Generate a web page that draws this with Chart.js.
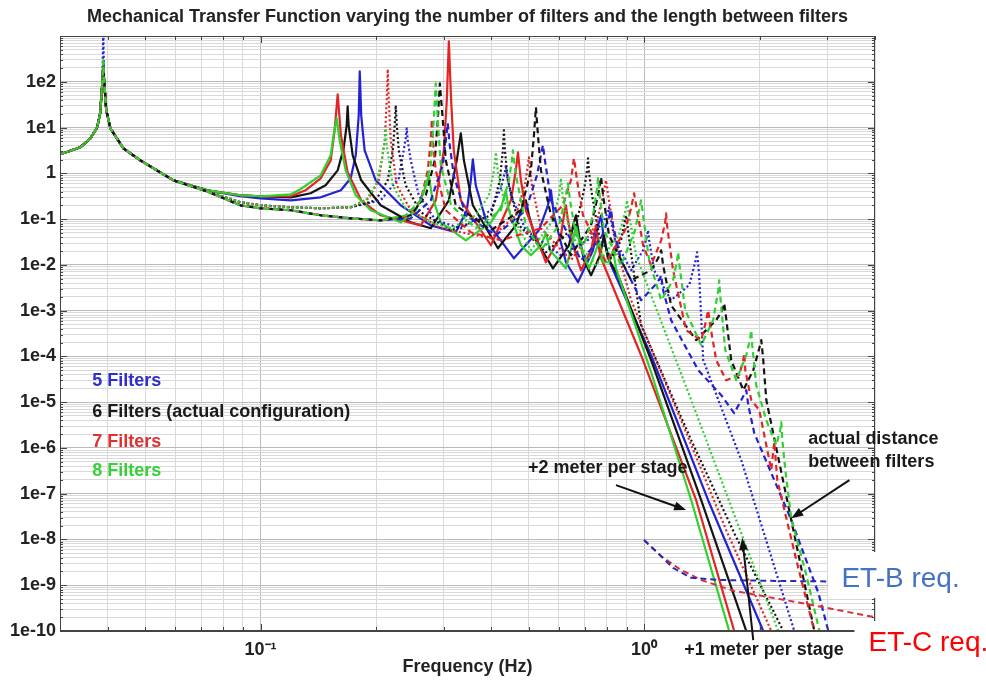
<!DOCTYPE html>
<html>
<head>
<meta charset="utf-8">
<title>Mechanical Transfer Function</title>
<script src="https://cdn.jsdelivr.net/npm/chart.js@4.4.1/dist/chart.umd.min.js"></script>
<style>
  html, body { margin: 0; padding: 0; background: #fff; }
  #wrap { width: 986px; height: 681px; }
</style>
</head>
<body>
<div id="wrap"><canvas id="tfChart" width="986" height="681"></canvas></div>
<script>
// Curves: [frequency (Hz), magnitude]
// solid = +2 m per stage, dotted = +1 m per stage, dashed = actual distance

const blue5Solid = [
  [0.030,2.6],[0.0339,3.7],[0.036,5.8],[0.0375,10],[0.0382,21],[0.0387,107],[0.0389,250],[0.0391,107],[0.0396,24],[0.0406,9.6],[0.0439,3.5],[0.0486,1.92],[0.0593,0.70],[0.0727,0.425],
  [0.0886,0.315],[0.1,0.284],[0.12,0.257],[0.1435,0.299],[0.162,0.425],[0.1718,0.778],[0.1771,2.47],[0.1803,18.5],[0.1814,169],[0.183,18.5],[0.1868,3.18],[0.1997,0.704],[0.232,0.2],[0.2779,0.073],[0.3229,0.0515],[0.345,0.156],[0.3534,0.704],[0.3577,2.02],[0.364,0.547],[0.387,0.094],[0.4578,0.0139],[0.532,0.057],[0.5615,0.2],[0.5717,0.425],[0.582,0.121],[0.6256,0.0114],[0.6725,0.0042],[0.736,0.0208],[0.7586,0.073],[0.7724,0.121],[0.7861,0.0344],[0.8199,0.0098],
  [1.043,1.06e-4],[1.469,7.2e-8],[2.045,1e-10],[2.185,2.6e-11]
];
const black6Solid = [
  [0.030,2.6],[0.0339,3.7],[0.036,5.8],[0.0375,10],[0.0382,21],[0.0387,107],[0.0389,200],[0.0391,107],[0.0396,24],[0.0406,9.6],[0.0439,3.5],[0.0486,1.92],[0.0593,0.70],[0.0727,0.425],
  [0.0886,0.331],[0.1,0.315],[0.12,0.299],[0.135,0.366],[0.1478,0.547],[0.1589,1.16],[0.1647,3.5],[0.1677,11.2],[0.1687,29],[0.1697,11.2],[0.1739,2.47],[0.183,0.704],[0.2057,0.2],[0.2464,0.085],[0.2779,0.063],[0.3097,0.257],[0.3248,1.92],[0.3328,7.5],[0.339,1.92],[0.3577,0.2],[0.4158,0.023],[0.463,0.073],[0.483,0.2],[0.4918,0.257],[0.5008,0.121],[0.5224,0.0344],[0.5786,0.0084],[0.637,0.0268],[0.6564,0.085],[0.6644,0.121],[0.6766,0.0443],[0.6971,0.0126],[0.7273,0.0059],[0.7677,0.0162],[0.7861,0.0443],[0.805,0.0139],[0.8553,0.0059],
  [1.043,8.3e-5],[1.409,7.2e-8],[1.847,1e-10],[1.949,2.6e-11]
];
const red7Solid = [
  [0.030,2.6],[0.0339,3.7],[0.036,5.8],[0.0375,10],[0.0382,21],[0.0387,107],[0.0389,220],[0.0391,107],[0.0396,24],[0.0406,9.6],[0.0439,3.5],[0.0486,1.92],[0.0593,0.70],[0.0727,0.425],
  [0.0886,0.331],[0.1,0.315],[0.12,0.315],[0.131,0.425],[0.1435,0.778],[0.1524,1.92],[0.156,8.7],[0.1589,53],[0.162,6.76],[0.1687,1.05],[0.183,0.257],[0.2057,0.121],[0.2617,0.073],[0.2863,0.257],[0.3005,3.18],[0.3059,39],[0.3097,762],[0.314,39],[0.319,3.18],[0.3328,0.257],[0.3987,0.0268],[0.4496,0.257],[0.463,1.16],[0.4689,2.87],[0.4774,0.704],[0.4918,0.156],[0.5547,0.0114],[0.6071,0.0443],[0.6181,0.121],[0.6256,0.2],[0.6332,0.094],[0.6525,0.0268],[0.6848,0.0076],[0.7273,0.0208],[0.7496,0.073],[0.7677,0.0162],[0.7861,0.0098],
  [0.9821,1.06e-4],[1.367,7.2e-8],[1.718,1e-10],[1.803,2.6e-11]
];
const green8Solid = [
  [0.030,2.6],[0.0339,3.7],[0.036,5.8],[0.0375,10],[0.0382,21],[0.0387,107],[0.0389,293],[0.0391,107],[0.0396,24],[0.0406,9.6],[0.0439,3.5],[0.0486,1.92],[0.0593,0.70],[0.0727,0.425],
  [0.0886,0.331],[0.1,0.315],[0.12,0.348],[0.127,0.448],[0.1435,0.904],[0.1524,2.47],[0.155,6.76],[0.158,15.9],[0.1608,5.25],[0.1667,1.16],[0.1771,0.331],[0.1937,0.156],[0.232,0.085],[0.254,0.156],[0.2665,0.385],[0.2746,0.904],[0.2796,0.331],[0.2951,0.085],[0.3429,0.0344],[0.3987,0.085],[0.4257,0.2],[0.4362,0.425],[0.4441,0.156],[0.4774,0.0268],[0.5068,0.0162],[0.5383,0.0268],[0.5547,0.049],[0.5683,0.0208],[0.6256,0.0084],[0.6486,0.0268],[0.6644,0.073],[0.6806,0.0268],[0.7186,0.0084],[0.7496,0.0208],[0.7632,0.0344],[0.7816,0.0114],[0.8101,0.0114],[0.83,0.0208],[0.845,0.0084],
  [1.043,4.5e-5],[1.327,7.2e-8],[1.667,1e-10],[1.749,2.6e-11]
];

const blue5Dotted = [
  [0.030,2.6],[0.0339,3.7],[0.036,5.8],[0.0375,10],[0.0382,21],[0.0387,107],[0.0389,1500],[0.0391,107],[0.0396,24],[0.0406,9.6],[0.0439,3.5],[0.0486,1.92],[0.0593,0.70],[0.0727,0.40],
  [0.0886,0.233],[0.1,0.2],[0.12,0.181],[0.1435,0.172],[0.1718,0.181],[0.2057,0.257],[0.2293,0.778],[0.2362,3.18],[0.239,5.81],[0.2405,9.6],[0.2419,5.25],[0.2464,1.92],[0.2585,0.331],[0.2863,0.094],[0.3328,0.063],[0.3987,0.156],[0.4232,0.47],[0.4336,1.05],[0.4362,1.5],[0.4388,0.904],[0.4496,0.331],[0.4918,0.057],[0.6071,0.0162],[0.7273,0.0381],[0.7861,0.094],[0.805,0.141],[0.8101,0.181],[0.815,0.121],[0.84,0.0344],[0.9249,0.0076],[0.994,0.0208],[1.018,0.0421],[1.024,0.057],[1.031,0.0344],[1.062,0.0076],[1.176,0.00169],[1.311,0.0036],[1.359,0.0114],[1.375,0.0188],[1.392,0.0059],[1.426,8.3e-5],
  [1.792,5.4e-7],[2.464,1e-10],[2.617,2.6e-11]
];
const black6Dotted = [
  [0.030,2.6],[0.0339,3.7],[0.036,5.8],[0.0375,10],[0.0382,21],[0.0387,107],[0.0389,200],[0.0391,107],[0.0396,24],[0.0406,9.6],[0.0439,3.5],[0.0486,1.92],[0.0593,0.70],[0.0727,0.40],
  [0.0886,0.233],[0.1,0.2],[0.12,0.181],[0.1435,0.172],[0.1718,0.181],[0.1997,0.257],[0.2146,0.704],[0.2212,3.18],[0.2238,11.2],[0.2252,30.5],[0.2266,11.2],[0.2293,3.18],[0.239,0.547],[0.2617,0.141],[0.314,0.057],[0.3987,0.121],[0.4207,0.704],[0.4284,3.18],[0.431,8.7],[0.4336,3.18],[0.4415,0.704],[0.4718,0.073],[0.5547,0.0188],[0.6644,0.073],[0.6971,0.425],[0.7099,1.16],[0.7143,2.13],[0.7186,1.05],[0.7316,0.331],[0.7632,0.0443],[0.8199,0.0139],[0.8708,0.0344],[0.8976,0.121],[0.919,0.0268],
  [0.9821,4.8e-4],[1.327,1.48e-6],[1.718,1.38e-8],[2.307,1e-10],[2.449,2.6e-11]
];
const red7Dotted = [
  [0.030,2.6],[0.0339,3.7],[0.036,5.8],[0.0375,10],[0.0382,21],[0.0387,107],[0.0389,220],[0.0391,107],[0.0396,24],[0.0406,9.6],[0.0439,3.5],[0.0486,1.92],[0.0593,0.70],[0.0727,0.40],
  [0.0886,0.233],[0.1,0.2],[0.12,0.181],[0.1435,0.172],[0.1718,0.181],[0.1914,0.284],[0.2033,0.704],[0.2108,5.25],[0.2133,39],[0.2146,187],[0.2159,39],[0.2185,5.25],[0.2266,0.547],[0.2464,0.156],[0.2951,0.063],[0.3987,0.0381],[0.463,0.121],[0.489,0.547],[0.5008,2.24],[0.5099,0.547],[0.5383,0.063],[0.6447,0.0126],[0.7496,0.073],[0.7816,0.331],[0.7957,0.704],[0.8101,0.257],[0.845,0.0268],[0.9249,0.00169],
  [1.249,4.0e-6],[1.637,1.6e-8],[2.146,1e-10],[2.265,2.6e-11]
];
const green8Dotted = [
  [0.030,2.6],[0.0339,3.7],[0.036,5.8],[0.0375,10],[0.0382,21],[0.0387,107],[0.0389,280],[0.0391,107],[0.0396,24],[0.0406,9.6],[0.0439,3.5],[0.0486,1.92],[0.0593,0.70],[0.0727,0.40],
  [0.0886,0.233],[0.1,0.2],[0.12,0.181],[0.1435,0.172],[0.1718,0.181],[0.188,0.257],[0.1997,0.547],[0.207,1.92],[0.2108,5.25],[0.212,9.6],[0.2133,4.1],[0.2212,0.547],[0.239,0.172],[0.2779,0.085],[0.314,0.063],[0.364,0.121],[0.394,0.331],[0.406,1.16],[0.4108,2.87],[0.4158,1.05],[0.431,0.257],[0.5068,0.0208],[0.5786,0.094],[0.60,0.331],[0.6071,0.778],[0.614,0.284],[0.6447,0.0443],[0.7496,0.0098],[0.86,0.0443],[0.892,0.141],[0.9028,0.257],[0.914,0.121],[0.953,0.0162],[1.043,0.00217],
  [1.327,1.11e-5],[1.739,2.65e-8],[2.238,1e-10],[2.38,2.6e-11]
];

const blue5Dashed = [
  [0.030,2.6],[0.0339,3.7],[0.036,5.8],[0.0375,10],[0.0382,21],[0.0387,107],[0.0389,250],[0.0391,107],[0.0396,24],[0.0406,9.6],[0.0439,3.5],[0.0486,1.92],[0.0593,0.70],[0.0727,0.40],
  [0.0886,0.2],[0.1,0.172],[0.12,0.156],[0.1435,0.121],[0.1718,0.104],[0.2057,0.094],[0.2464,0.104],[0.2779,0.257],[0.2987,1.5],[0.3041,5.25],[0.3077,12.4],[0.3114,4.1],[0.319,0.904],[0.3429,0.121],[0.4108,0.0443],[0.4918,0.156],[0.5256,0.904],[0.5383,2.47],[0.5448,4.1],[0.5514,1.92],[0.5717,0.257],[0.6848,0.0126],[0.7724,0.0381],[0.805,0.094],[0.8199,0.156],[0.83,0.073],[0.8708,0.0126],[0.9821,0.00169],[1.068,0.0036],[1.101,0.0051],[1.108,0.0059],[1.121,0.0028],[1.176,6.2e-4],[1.384,5.0e-5],[1.589,1.42e-5],[1.718,5.75e-6],[1.803,1.22e-5],[1.836,1.65e-5],[1.847,1.83e-5],[1.869,8.6e-6],[1.938,2.1e-6],
  [2.42,2.65e-8],[2.847,6.8e-10],[3.023,1e-10],[3.23,2.6e-11]
];
const black6Dashed = [
  [0.030,2.6],[0.0339,3.7],[0.036,5.8],[0.0375,10],[0.0382,21],[0.0387,107],[0.0389,200],[0.0391,107],[0.0396,24],[0.0406,9.6],[0.0439,3.5],[0.0486,1.92],[0.0593,0.70],[0.0727,0.40],
  [0.0886,0.2],[0.1,0.172],[0.12,0.156],[0.1435,0.121],[0.1718,0.104],[0.2057,0.094],[0.2464,0.121],[0.2697,0.331],[0.2846,1.92],[0.2898,14.4],[0.2934,92],[0.2987,14.4],[0.3041,1.92],[0.3229,0.2],[0.3987,0.057],[0.4774,0.156],[0.5068,1.16],[0.5162,6.76],[0.5224,27.6],[0.5288,6.76],[0.5383,1.16],[0.5717,0.121],[0.6447,0.0162],[0.7273,0.073],[0.7586,0.331],[0.7724,0.818],[0.7816,0.331],[0.8101,0.0443],[0.9249,0.0046],[1.043,0.0076],[1.088,0.0139],[1.108,0.0208],[1.121,0.0098],[1.176,0.00131],[1.367,2.26e-4],[1.542,6.2e-4],[1.599,0.00102],[1.618,0.00145],[1.637,6.8e-4],[1.687,8.3e-5],[1.814,1.83e-5],[1.926,5.0e-5],[1.997,1.51e-4],[2.021,2.26e-4],[2.045,8.3e-5],[2.083,1.11e-5],
  [2.42,2.65e-8],[2.779,1e-10],[2.864,2.6e-11]
];
const red7Dashed = [
  [0.030,2.6],[0.0339,3.7],[0.036,5.8],[0.0375,10],[0.0382,21],[0.0387,107],[0.0389,220],[0.0391,107],[0.0396,24],[0.0406,9.6],[0.0439,3.5],[0.0486,1.92],[0.0593,0.70],[0.0727,0.40],
  [0.0886,0.2],[0.1,0.172],[0.12,0.156],[0.1435,0.121],[0.1718,0.104],[0.2057,0.094],[0.239,0.115],[0.2617,0.257],[0.2729,1.16],[0.2779,5.25],[0.2796,15.1],[0.2813,5.25],[0.2863,1.16],[0.3041,0.156],[0.3534,0.0515],[0.4232,0.0344],[0.5383,0.063],[0.614,0.2],[0.6447,0.704],[0.6564,2.13],[0.6685,0.704],[0.693,0.121],[0.7957,0.0114],[0.892,0.057],[0.9249,0.172],[0.9417,0.366],[0.9588,0.156],[0.994,0.0268],[1.043,0.0098],[1.108,0.0344],[1.135,0.085],[1.141,0.134],[1.148,0.073],[1.19,0.0076],[1.287,3.7e-4],[1.409,2.26e-4],[1.452,6.2e-4],[1.469,0.00102],[1.487,4.8e-4],[1.542,8.3e-5],[1.637,3.0e-5],[1.770,3.9e-5],[1.814,8.3e-5],[1.825,1.17e-4],[1.836,5.0e-5],[1.903,1.11e-5],[1.997,6.7e-6],[2.146,3.3e-7],[2.185,1.34e-6],[2.225,1.98e-7],
  [2.494,3.55e-9],[2.779,1e-10],[2.864,2.6e-11]
];
const green8Dashed = [
  [0.030,2.6],[0.0339,3.7],[0.036,5.8],[0.0375,10],[0.0382,21],[0.0387,107],[0.0389,280],[0.0391,107],[0.0396,24],[0.0406,9.6],[0.0439,3.5],[0.0486,1.92],[0.0593,0.70],[0.0727,0.40],
  [0.0886,0.2],[0.1,0.172],[0.12,0.156],[0.1435,0.121],[0.1718,0.104],[0.2057,0.094],[0.239,0.121],[0.2617,0.257],[0.2779,1.5],[0.2829,14.4],[0.2863,92],[0.2898,14.4],[0.2951,1.5],[0.314,0.2],[0.364,0.063],[0.4232,0.156],[0.4441,0.704],[0.4522,1.92],[0.455,3.18],[0.4578,1.92],[0.4661,0.704],[0.4918,0.073],[0.5383,0.0208],[0.60,0.073],[0.6256,0.331],[0.6332,0.605],[0.6409,0.257],[0.6644,0.0443],[0.6971,0.0268],[0.736,0.121],[0.754,0.47],[0.7586,0.778],[0.7632,0.425],[0.7861,0.057],[0.8708,0.0098],[0.9473,0.057],[0.9703,0.156],[0.9821,0.257],[0.994,0.121],[1.031,0.0126],[1.108,0.00169],[1.19,0.0046],[1.219,0.0126],[1.227,0.0188],[1.234,0.0114],[1.28,0.00102],[1.409,1.76e-4],[1.514,6.2e-4],[1.561,0.0028],[1.570,0.0046],[1.579,0.00217],[1.628,1.37e-4],[1.739,3.0e-5],[1.847,1.06e-4],[1.891,2.5e-4],[1.903,3.7e-4],[1.914,1.76e-4],[1.961,2.35e-5],[2.083,4.0e-6],[2.211,1.15e-6],[2.265,2.45e-6],[2.279,3.66e-6],[2.293,1.48e-6],[2.335,3.3e-7],
  [2.42,2.9e-8],[2.649,1.67e-9],[2.864,1e-10],[2.934,2.6e-11]
];

// requirement curves
const etbReq = [[1.0,9.7e-9],[1.108,4.3e-9],[1.19,2.38e-9],[1.327,1.45e-9],[1.589,1.3e-9],[2.279,1.24e-9],[4.0,1.18e-9]];
const etcReq = [[1.0,9.7e-9],[1.108,4.3e-9],[1.249,2.15e-9],[1.409,1.3e-9],[1.718,7.5e-10],[2.57,4.1e-10],[4.0,2.0e-10]];

// axis ticks
const xMajorTicks = [0.1, 1];
const xTickLabels = ['10\u207B\u00B9', '10\u2070'];
const yMajorTicks = [1e-10,1e-9,1e-8,1e-7,1e-6,1e-5,1e-4,1e-3,1e-2,1e-1,1,1e1,1e2,1e3];
const yTickLabels = ['1e-10','1e-9','1e-8','1e-7','1e-6','1e-5','1e-4','1e-3','1e-2','1e-1','1','1e1','1e2',''];

const legendTexts = ['5 Filters', '6 Filters (actual configuration)', '7 Filters', '8 Filters'];

const BLUE = '#2222d4', BLACK = '#141414', RED = '#e22424', GREEN = '#30d030';
const FONT = '"Liberation Sans", Arial, Helvetica, sans-serif';

function pts(arr) {
  return arr.map(p => ({ x: p[0], y: p[1] }));
}
function sameLog(a, b) {
  return Math.abs(Math.log10(a) - Math.log10(b)) < 1e-6;
}
function majorIndex(list, v) {
  for (let i = 0; i < list.length; i++) if (sameLog(list[i], v)) return i;
  return -1;
}

// minor ticks 1..9 for each decade
function decadeTicks(lo, hi) {
  const out = [];
  for (let e = -11; e <= 3; e++) {
    for (let k = 1; k <= 9; k++) {
      const v = k * Math.pow(10, e);
      if (v >= lo * 0.999 && v <= hi * 1.001) out.push(v);
    }
  }
  return out;
}
const xTickValues = decadeTicks(0.03, 4);
const yTickValues = decadeTicks(1e-10, 1e3);

const DOT = [2, 2.5], DASH = [6, 4];
function curve(label, arr, color, dash, width) {
  return {
    label: label, data: pts(arr), borderColor: color, backgroundColor: color,
    borderWidth: width || 2.2, borderDash: dash, pointRadius: 0, tension: 0,
    borderJoinStyle: 'round', fill: false
  };
}

const datasets = [
  curve('ET-B req.', etbReq, '#2a2ab4', DASH, 2),
  curve('ET-C req.', etcReq, '#d8303c', DASH, 2),
  curve('8 Filters actual', green8Dashed, GREEN, DASH),
  curve('7 Filters actual', red7Dashed, RED, DASH),
  curve('6 Filters actual', black6Dashed, BLACK, DASH),
  curve('5 Filters actual', blue5Dashed, BLUE, DASH),
  curve('8 Filters +1 m', green8Dotted, GREEN, DOT),
  curve('7 Filters +1 m', red7Dotted, RED, DOT),
  curve('6 Filters +1 m', black6Dotted, BLACK, DOT),
  curve('5 Filters +1 m', blue5Dotted, BLUE, DOT),
  curve('8 Filters +2 m', green8Solid, GREEN, []),
  curve('7 Filters +2 m', red7Solid, RED, []),
  curve('6 Filters +2 m', black6Solid, BLACK, []),
  curve('5 Filters +2 m', blue5Solid, BLUE, [])
];

// text and arrows placed in data coordinates
const notes = {
  legendAt: [[0.0364, 2.9e-5], [0.0364, 6.05e-6], [0.0364, 1.34e-6], [0.0364, 3.1e-7]],
  legendColors: ['#2f2fd0', '#1a1a1a', '#e03030', '#38d038'],
  texts: [
    { t: '+2 meter per stage', at: [0.498, 3.6e-7] },
    { t: 'actual distance', at: [2.681, 1.56e-6] },
    { t: 'between filters', at: [2.681, 4.9e-7] },
    { t: '+1 meter per stage', at: [1.272, 3.85e-11] }
  ],
  arrows: [
    [[0.845, 1.54e-7], [1.287, 4.4e-8]],
    [[3.43, 1.98e-7], [2.42, 2.9e-8]],
    [[1.926, 6.35e-11], [1.803, 1.07e-8]]
  ]
};

function drawArrow(ctx, x1, y1, x2, y2) {
  const ang = Math.atan2(y2 - y1, x2 - x1), L = 12, W = 4.5;
  ctx.beginPath();
  ctx.moveTo(x1, y1);
  ctx.lineTo(x2 - L * 0.8 * Math.cos(ang), y2 - L * 0.8 * Math.sin(ang));
  ctx.stroke();
  ctx.beginPath();
  ctx.moveTo(x2, y2);
  ctx.lineTo(x2 - L * Math.cos(ang) + W * Math.sin(ang), y2 - L * Math.sin(ang) - W * Math.cos(ang));
  ctx.lineTo(x2 - L * Math.cos(ang) - W * Math.sin(ang), y2 - L * Math.sin(ang) + W * Math.cos(ang));
  ctx.closePath();
  ctx.fill();
}

const overlay = {
  id: 'overlay',
  afterDraw(chart) {
    const ctx = chart.ctx, a = chart.chartArea, xs = chart.scales.x, ys = chart.scales.y;
    ctx.save();

    // box with inward ticks (matlab style)
    ctx.strokeStyle = '#444';
    ctx.lineWidth = 1;
    ctx.strokeRect(a.left + 0.5, a.top + 0.5, a.right - a.left - 1, a.bottom - a.top - 1);
    ctx.beginPath();
    xTickValues.forEach(v => {
      const p = Math.round(xs.getPixelForValue(v)) + 0.5;
      const len = majorIndex(xMajorTicks, v) >= 0 ? 7 : 4;
      ctx.moveTo(p, a.bottom); ctx.lineTo(p, a.bottom - len);
      ctx.moveTo(p, a.top); ctx.lineTo(p, a.top + len);
    });
    yTickValues.forEach(v => {
      const p = Math.round(ys.getPixelForValue(v)) + 0.5;
      const len = majorIndex(yMajorTicks, v) >= 0 ? 7 : 3;
      ctx.moveTo(a.left, p); ctx.lineTo(a.left + len, p);
      ctx.moveTo(a.right, p); ctx.lineTo(a.right - len, p);
    });
    ctx.stroke();

    // legend-like labels
    ctx.font = 'bold 18px ' + FONT;
    ctx.textBaseline = 'middle';
    ctx.textAlign = 'left';
    legendTexts.forEach((t, i) => {
      ctx.fillStyle = notes.legendColors[i];
      ctx.fillText(t, xs.getPixelForValue(notes.legendAt[i][0]), ys.getPixelForValue(notes.legendAt[i][1]));
    });
    ctx.fillStyle = '#1a1a1a';
    notes.texts.forEach(n => {
      ctx.fillText(n.t, xs.getPixelForValue(n.at[0]), ys.getPixelForValue(n.at[1]));
    });

    // arrows
    ctx.strokeStyle = '#111';
    ctx.fillStyle = '#111';
    ctx.lineWidth = 2;
    notes.arrows.forEach(ar => {
      drawArrow(ctx, xs.getPixelForValue(ar[0][0]), ys.getPixelForValue(ar[0][1]),
                xs.getPixelForValue(ar[1][0]), ys.getPixelForValue(ar[1][1]));
    });

    // requirement labels pasted on white boxes
    const bx = xs.getPixelForValue(3.02), by1 = ys.getPixelForValue(5.3e-9), by2 = ys.getPixelForValue(5.3e-10);
    ctx.fillStyle = '#fff';
    ctx.fillRect(bx, by1, chart.width - bx, by2 - by1);
    const cx = xs.getPixelForValue(3.535), cy = ys.getPixelForValue(1.65e-10);
    ctx.fillRect(cx, cy, chart.width - cx, chart.height - cy);
    ctx.font = '28px ' + FONT;
    ctx.fillStyle = '#4472c4';
    ctx.fillText('ET-B req.', xs.getPixelForValue(3.27), ys.getPixelForValue(1.36e-9));
    ctx.fillStyle = '#ff0000';
    ctx.fillText('ET-C req.', xs.getPixelForValue(3.846), ys.getPixelForValue(5.5e-11));
    ctx.restore();
  }
};

function gridColor(list) {
  return c => (c.tick && majorIndex(list, c.tick.value) >= 0) ? '#bababa' : '#d9d9d9';
}

const ctx = document.getElementById('tfChart').getContext('2d');
const tfChart = new Chart(ctx, {
  type: 'line',
  data: { datasets: datasets },
  options: {
    responsive: false,
    animation: false,
    devicePixelRatio: 1,
    layout: { padding: { left: 0, right: 111, top: 0, bottom: 0 } },
    plugins: {
      legend: { display: false },
      tooltip: { enabled: false },
      title: {
        display: true,
        fullSize: false,
        text: 'Mechanical Transfer Function varying the number of filters and the length between filters',
        color: '#222',
        font: { family: FONT, size: 18, weight: 'bold', lineHeight: 1.2 },
        padding: { top: 6, bottom: 8.4 }
      }
    },
    scales: {
      x: {
        type: 'logarithmic',
        min: 0.03,
        max: 4,
        afterBuildTicks: s => { s.ticks = xTickValues.map(v => ({ value: v })); },
        afterFit: s => { s.height = 50; },
        ticks: {
          autoSkip: false, maxRotation: 0, padding: 8, color: '#222',
          font: { family: FONT, size: 18, weight: 'bold' },
          callback: v => { const i = majorIndex(xMajorTicks, v); return i >= 0 ? xTickLabels[i] : ''; }
        },
        grid: { drawTicks: false, color: gridColor(xMajorTicks) },
        border: { color: '#444' },
        title: {
          display: true, text: 'Frequency (Hz)', color: '#222',
          font: { family: FONT, size: 18, weight: 'bold' },
          padding: { top: 0, bottom: 3 }
        }
      },
      y: {
        type: 'logarithmic',
        min: 1e-10,
        max: 1e3,
        afterBuildTicks: s => { s.ticks = yTickValues.map(v => ({ value: v })); },
        afterFit: s => { s.width = 60; },
        ticks: {
          autoSkip: false, padding: 4, color: '#222',
          font: { family: FONT, size: 18, weight: 'bold' },
          callback: v => { const i = majorIndex(yMajorTicks, v); return i >= 0 ? yTickLabels[i] : ''; }
        },
        grid: { drawTicks: false, color: gridColor(yMajorTicks) },
        border: { color: '#444' }
      }
    }
  },
  plugins: [overlay]
});
</script>
</body>
</html>
